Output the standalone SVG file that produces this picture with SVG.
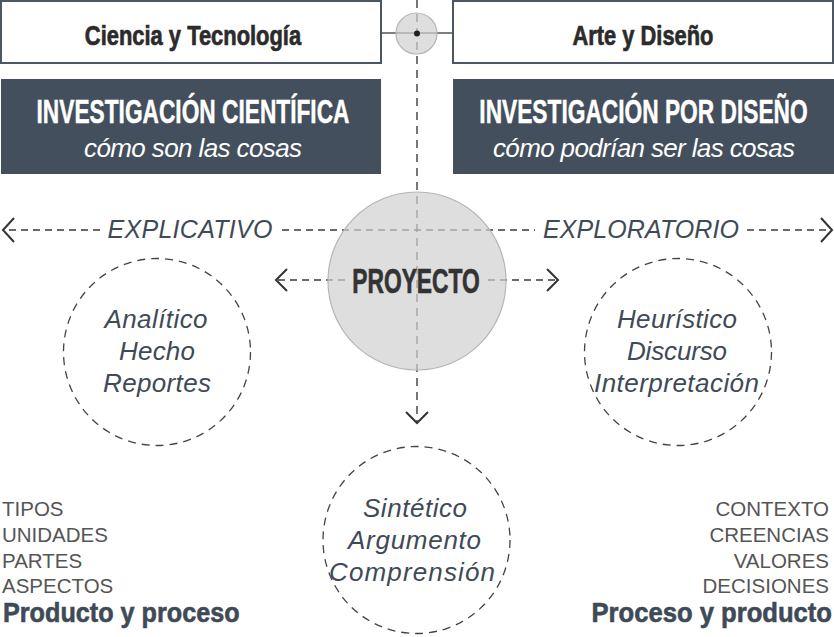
<svg xmlns="http://www.w3.org/2000/svg" width="834" height="637" viewBox="0 0 834 637">
<defs>
<style>
.cond{font-family:"Liberation Sans",Arial,sans-serif;font-weight:bold}
.dk{fill:#2b2b2b;stroke:#2b2b2b;stroke-width:0.7}
.wh{fill:#fff;stroke:#fff;stroke-width:0.5}
.sl{fill:#3f4a57;stroke:#3f4a57;stroke-width:0.6}
.ital{font-family:"Liberation Sans",Arial,sans-serif;font-style:italic}
.reg{font-family:"Liberation Sans",Arial,sans-serif;font-size:20.5px;fill:#555}
.dash{fill:none;stroke:#3a3a3a;stroke-width:1.5;stroke-dasharray:7 5}
.vdash{fill:none;stroke:#555;stroke-width:1.6;stroke-dasharray:8 6}
.dcirc{fill:none;stroke:#444;stroke-width:1.3;stroke-dasharray:8 6}
.ctext{font-size:26px;fill:#3f4a57}
.box{fill:#fff;stroke:#4d5763;stroke-width:2}
.dark{fill:#434f5c}
</style>
<marker id="chev" viewBox="0 0 14 26" refX="12" refY="13" markerWidth="14" markerHeight="26" markerUnits="userSpaceOnUse" orient="auto">
<path d="M1,1 L12,13 L1,25" fill="none" stroke="#333" stroke-width="2"/>
</marker>
<marker id="chev2" viewBox="0 0 14 24" refX="12" refY="12" markerWidth="14" markerHeight="24" markerUnits="userSpaceOnUse" orient="auto">
<path d="M1,1 L12,12 L1,23" fill="none" stroke="#333" stroke-width="2"/>
</marker>
</defs>
<rect width="834" height="637" fill="#fff"/>

<g id="ciencia">
<rect class="box" x="1" y="1" width="380" height="62"/>
<text class="cond dk" transform="translate(193,45) scale(0.783,1)" font-size="28" text-anchor="middle">Ciencia y Tecnología</text>
</g>
<g id="arte">
<rect class="box" x="453" y="1" width="380" height="62"/>
<text class="cond dk" transform="translate(643,45) scale(0.781,1)" font-size="28" text-anchor="middle">Arte y Diseño</text>
</g>
<g id="inv-cientifica">
<rect class="dark" x="1" y="79" width="380" height="95"/>
<text class="cond wh" transform="translate(193,123) scale(0.668,1)" font-size="34" text-anchor="middle">INVESTIGACIÓN CIENTÍFICA</text>
<text class="ital" x="193" y="157" font-size="26" fill="#fff" text-anchor="middle" textLength="218">cómo son las cosas</text>
</g>
<g id="inv-diseno">
<rect class="dark" x="453" y="79" width="381" height="95"/>
<text class="cond wh" transform="translate(643.5,123) scale(0.669,1)" font-size="34" text-anchor="middle">INVESTIGACIÓN POR DISEÑO</text>
<text class="ital" x="644" y="157" font-size="26" fill="#fff" text-anchor="middle" textLength="302">cómo podrían ser las cosas</text>
</g>

<g id="connectors">
<line x1="381" y1="33" x2="453" y2="33" stroke="#555" stroke-width="1.5"/>
<line class="vdash" x1="417" y1="0" x2="417" y2="423" marker-end="url(#chev2)"/>
<line class="dash" x1="100" y1="230" x2="3" y2="230" marker-end="url(#chev)"/>
<line class="dash" x1="282" y1="230" x2="535" y2="230"/>
<line class="dash" x1="747" y1="230" x2="832" y2="230" marker-end="url(#chev)"/>
<line class="dash" x1="345" y1="280" x2="276" y2="280" marker-end="url(#chev2)"/>
<line class="dash" x1="488" y1="280" x2="558" y2="280" marker-end="url(#chev2)"/>
</g>

<g id="hub">
<circle cx="416.5" cy="33.5" r="20.5" fill="#d0d0d0" fill-opacity="0.7" stroke="#b5b5b5" stroke-width="1.2"/>
<circle cx="417" cy="33.5" r="3" fill="#222"/>
</g>

<g id="labels">
<text class="ital" x="190" y="238" font-size="25" fill="#3f4a57" text-anchor="middle" textLength="165">EXPLICATIVO</text>
<text class="ital" x="641" y="238" font-size="25" fill="#3f4a57" text-anchor="middle" textLength="196">EXPLORATORIO</text>
</g>

<g id="proyecto">
<circle cx="417" cy="281" r="89" fill="#d0d0d0" fill-opacity="0.7" stroke="#b5b5b5" stroke-width="1.2"/>
<text class="cond" transform="translate(416,293) scale(0.652,1)" font-size="35" fill="#333" stroke="#333" stroke-width="0.7" text-anchor="middle">PROYECTO</text>
</g>

<g id="analitico">
<circle class="dcirc" cx="157" cy="352" r="93.5"/>
<text class="ital ctext" x="156" y="328" text-anchor="middle" textLength="103">Analítico</text>
<text class="ital ctext" x="157" y="360" text-anchor="middle" textLength="76">Hecho</text>
<text class="ital ctext" x="157" y="392" text-anchor="middle" textLength="108">Reportes</text>
</g>
<g id="heuristico">
<circle class="dcirc" cx="678" cy="352" r="93.5"/>
<text class="ital ctext" x="677" y="328" text-anchor="middle" textLength="120">Heurístico</text>
<text class="ital ctext" x="677" y="360" text-anchor="middle" textLength="100">Discurso</text>
<text class="ital ctext" x="676.5" y="392" text-anchor="middle" textLength="165">Interpretación</text>
</g>
<g id="sintetico">
<circle class="dcirc" cx="416.5" cy="540" r="93.5"/>
<text class="ital ctext" x="415" y="517" text-anchor="middle" textLength="104">Sintético</text>
<text class="ital ctext" x="414.5" y="549" text-anchor="middle" textLength="133">Argumento</text>
<text class="ital ctext" x="412" y="581" text-anchor="middle" textLength="166">Comprensión</text>
</g>

<g id="lista-izq">
<text class="reg" x="2" y="516">TIPOS</text>
<text class="reg" x="2" y="542">UNIDADES</text>
<text class="reg" x="2" y="568">PARTES</text>
<text class="reg" x="2" y="593">ASPECTOS</text>
<text class="cond sl" transform="translate(3,622) scale(0.9,1)" font-size="28">Producto y proceso</text>
</g>
<g id="lista-der">
<text class="reg" x="829" y="516" text-anchor="end">CONTEXTO</text>
<text class="reg" x="829" y="542" text-anchor="end">CREENCIAS</text>
<text class="reg" x="829" y="568" text-anchor="end">VALORES</text>
<text class="reg" x="829" y="593" text-anchor="end">DECISIONES</text>
<text class="cond sl" transform="translate(832,622) scale(0.915,1)" font-size="28" text-anchor="end">Proceso y producto</text>
</g>
</svg>
